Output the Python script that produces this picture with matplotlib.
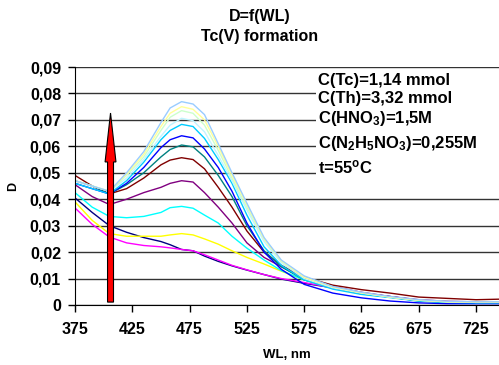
import matplotlib
matplotlib.use("Agg")
import matplotlib.pyplot as plt
from matplotlib.patches import Rectangle

plt.rcParams['font.family'] = ['Liberation Sans', 'DejaVu Sans']
plt.rcParams['font.weight'] = 'bold'
plt.rcParams['axes.labelweight'] = 'bold'
plt.rcParams['mathtext.fontset'] = 'custom'
plt.rcParams['mathtext.rm'] = 'Liberation Sans:bold'
plt.rcParams['mathtext.it'] = 'Liberation Sans:bold'
plt.rcParams['mathtext.bf'] = 'Liberation Sans:bold'

# wavelengths, nm
wl = [375, 390, 405, 420, 435, 450, 458, 468, 478, 488, 500, 512, 525, 540, 555,
      575, 600, 625, 650, 675, 700, 725, 745]

# absorbance curves (low -> high)
d_navy = [0.0405, 0.035, 0.030, 0.0275, 0.0255, 0.024, 0.0228, 0.021, 0.0205, 0.0185, 0.0165, 0.0148,
          0.0132, 0.0115, 0.0098, 0.0082, 0.0065, 0.0045, 0.0032, 0.0018, 0.0012, 0.0010, 0.0008]
d_magenta = [0.0367, 0.0305, 0.0257, 0.0235, 0.0225, 0.022, 0.0216, 0.021, 0.0205, 0.019, 0.017, 0.015,
             0.0133, 0.0115, 0.010, 0.0085, 0.0065, 0.0045, 0.003, 0.0018, 0.0012, 0.001, 0.0008]
d_yellow = [0.039, 0.032, 0.027, 0.026, 0.026, 0.026, 0.0265, 0.027, 0.0265, 0.025, 0.023, 0.0205,
            0.018, 0.0155, 0.0128, 0.0095, 0.0068, 0.0045, 0.003, 0.0018, 0.0012, 0.001, 0.0008]
d_cyan = [0.0425, 0.037, 0.0335, 0.033, 0.0335, 0.035, 0.0368, 0.0373, 0.0366, 0.034, 0.031, 0.026,
          0.0215, 0.017, 0.013, 0.0095, 0.0068, 0.0045, 0.003, 0.0018, 0.0012, 0.001, 0.0008]
d_purple = [0.0455, 0.041, 0.038, 0.040, 0.0425, 0.0445, 0.046, 0.047, 0.0465, 0.0425, 0.037, 0.031,
            0.0235, 0.018, 0.0145, 0.010, 0.007, 0.0048, 0.0032, 0.002, 0.0014, 0.0012, 0.001]
d_maroon = [0.049, 0.045, 0.042, 0.044, 0.048, 0.053, 0.0548, 0.0557, 0.055, 0.0515, 0.0445, 0.037,
            0.028, 0.020, 0.015, 0.0105, 0.0075, 0.0058, 0.0045, 0.003, 0.0025, 0.002, 0.0022]
d_teal = [0.047, 0.045, 0.042, 0.0455, 0.050, 0.056, 0.0588, 0.0605, 0.0598, 0.056, 0.049, 0.041,
          0.030, 0.0205, 0.0145, 0.0095, 0.0065, 0.0042, 0.003, 0.0015, 0.001, 0.0008, 0.0008]
d_blue = [0.046, 0.044, 0.042, 0.046, 0.052, 0.0595, 0.0625, 0.064, 0.0632, 0.059, 0.052, 0.043,
          0.031, 0.020, 0.0135, 0.0078, 0.0045, 0.0027, 0.0015, 0.0008, 0.0005, 0.0005, 0.0005]
d_skyblue = [0.046, 0.044, 0.042, 0.047, 0.054, 0.0625, 0.066, 0.0683, 0.0675, 0.063, 0.055, 0.046,
             0.034, 0.022, 0.015, 0.0095, 0.006, 0.004, 0.0028, 0.0015, 0.001, 0.0008, 0.0008]
d_turq = [0.047, 0.045, 0.043, 0.048, 0.055, 0.0638, 0.068, 0.0706, 0.0697, 0.0655, 0.0565, 0.047,
          0.036, 0.024, 0.016, 0.010, 0.0065, 0.0045, 0.003, 0.0018, 0.0012, 0.001, 0.001]
d_green = [0.047, 0.045, 0.043, 0.049, 0.056, 0.066, 0.071, 0.0735, 0.0725, 0.068, 0.0585, 0.048,
           0.037, 0.025, 0.0165, 0.0105, 0.0068, 0.0046, 0.003, 0.0018, 0.0012, 0.001, 0.001]
d_lyellow = [0.047, 0.045, 0.043, 0.0495, 0.057, 0.0675, 0.0725, 0.075, 0.074, 0.070, 0.060, 0.049,
             0.038, 0.025, 0.0168, 0.0105, 0.0068, 0.0046, 0.003, 0.0018, 0.0012, 0.001, 0.001]
d_lblue = [0.047, 0.045, 0.043, 0.050, 0.058, 0.069, 0.0745, 0.0769, 0.076, 0.072, 0.061, 0.050,
           0.0385, 0.0255, 0.017, 0.011, 0.007, 0.0048, 0.0032, 0.002, 0.0014, 0.0012, 0.0012]

series = [d_navy, d_magenta, d_yellow, d_cyan, d_purple, d_maroon, d_teal, d_blue,
          d_skyblue, d_turq, d_green, d_lyellow, d_lblue]
colors = ['#000080', '#FF00FF', '#FFFF00', '#00FFFF', '#800080', '#800000', '#008080',
          '#0000FF', '#00CCFF', '#BFF5FF', '#CCFFCC', '#FFFF99', '#99CCFF']

yticks = [0, 0.01, 0.02, 0.03, 0.04, 0.05, 0.06, 0.07, 0.08, 0.09]
ylabels = ['0', '0,01', '0,02', '0,03', '0,04', '0,05', '0,06', '0,07', '0,08', '0,09']
xticks = [375, 425, 475, 525, 575, 625, 675, 725]

info = ['C(Tc)=1,14 mmol', 'C(Th)=3,32 mmol', r'C(HNO$_3$)=1,5M',
        r'C(N$_2$H$_5$NO$_3$)=0,255M', r't=55$^o$C']

W, H = 499, 365
fig = plt.figure(figsize=(W / 100, H / 100), dpi=100)
ax = fig.add_axes([75 / W, 1 - 305 / H, 1 - 75 / W, (305 - 67) / H])

for d, c in zip(series, colors):
    ax.plot(wl, d, color=c, lw=1.0)

ax.set_xlim(375, 745)
ax.set_ylim(0, 0.09)
ax.set_xticks(xticks)
ax.set_xticklabels([str(x) for x in xticks])
ax.set_yticks(yticks)
ax.set_yticklabels(ylabels)
ax.tick_params(labelsize=11.5, length=5, width=1, direction='out')
ax.tick_params(axis='x', pad=7)
ax.tick_params(axis='y', pad=5)
ax.yaxis.grid(True, color='#333333', lw=1.0)
ax.set_axisbelow(True)
for s in ['top', 'right']:
    ax.spines[s].set_visible(False)

ax.set_xlabel('WL, nm', fontsize=9.5, labelpad=9)
ax.set_ylabel('D', fontsize=9, labelpad=8)

# arrow showing growth
ax.arrow(406, 0.0011, 0, 0.0715, width=5.2, head_width=9.5, head_length=0.0185,
         length_includes_head=True, fc='red', ec='black', lw=0.8, zorder=5)

# white panel behind the conditions text
fig.patches.append(Rectangle((316 / W, 1 - 186 / H), 1 - 316 / W, (186 - 70) / H,
                             transform=fig.transFigure, fc='white', ec='none', zorder=3))
for t, py in zip(info, [81, 99, 119, 143, 167]):
    fig.text(318 / W, 1 - py / H, t, fontsize=12, va='center', ha='left', zorder=4)

fig.text(260 / W, 1 - 17 / H, 'D=f(WL)', fontsize=11.5, ha='center', va='center')
fig.text(260 / W, 1 - 37 / H, 'Tc(V) formation', fontsize=11.5, ha='center', va='center')

fig.savefig('out.png', dpi=100)
